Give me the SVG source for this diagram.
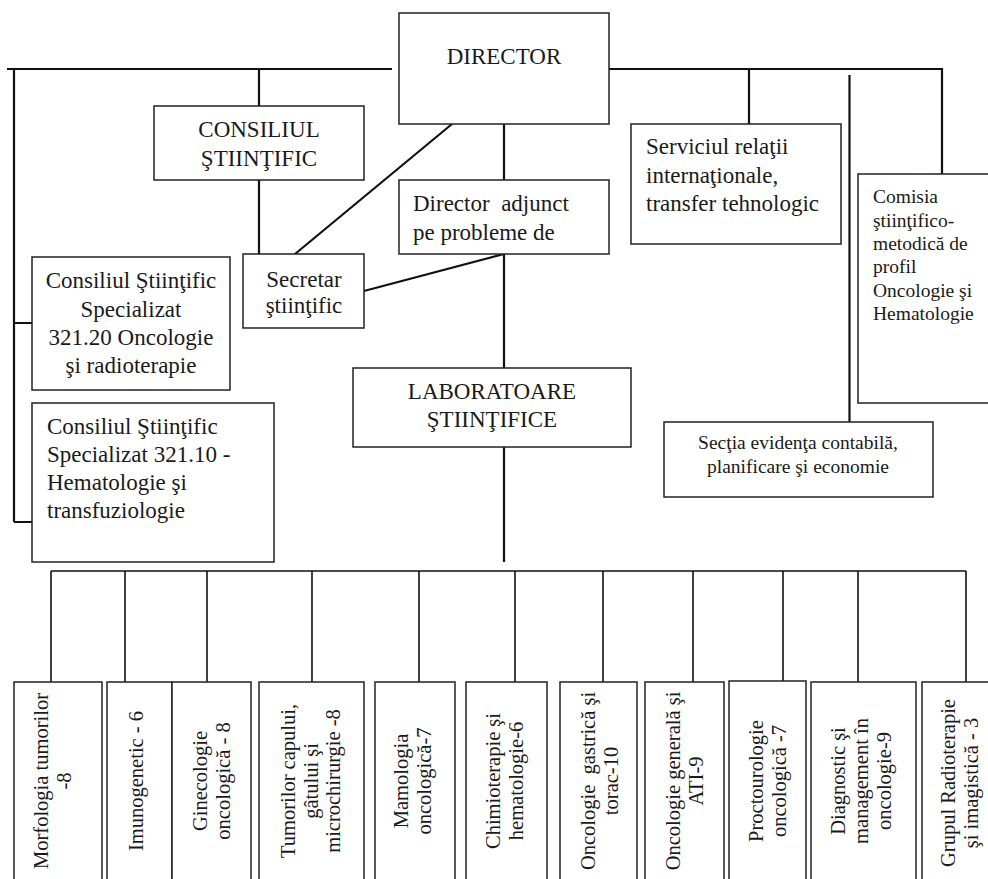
<svg xmlns="http://www.w3.org/2000/svg" width="988" height="879" viewBox="0 0 988 879">
<style>
.box{fill:#fff;stroke:#222;stroke-width:1.5}
.t{font-family:"Liberation Serif","Times New Roman",serif;fill:#1a1a1a;font-size:23px}
.s{font-size:19.5px}
.r{font-size:20.5px;text-anchor:middle}
.c{text-anchor:middle}
.ln{stroke:#111;stroke-width:2.2;fill:none}
.lt{stroke:#111;stroke-width:1.6;fill:none}
</style>
<rect width="988" height="879" fill="#fff"/>
<g id="connectors">
<path class="ln" d="M7 69H392M14 69V522M14 323H32M14 522H32M259 69V106M259 180V254M609 69H942V174M749 69V124M849.5 75V422M504 124V180M504 254V368M504 447V562"/>
<path class="ln" d="M452 124L295 254M364 291L504 254"/>
<path class="lt" d="M51 571H966M51 571V682M125 571V682M207 571V682M312 571V682M419 571V682M515 571V682M603 571V682M693 571V682M783 571V681M858 571V682M966 571V682"/>
</g>
<g id="director">
<rect class="box" x="399" y="13" width="210" height="111"/>
<text class="t c" x="504" y="64">DIRECTOR</text>
</g>
<g id="consiliul">
<rect class="box" x="154" y="106" width="210" height="74"/>
<text class="t c" x="259" y="137">CONSILIUL</text>
<text class="t c" x="259" y="166">ŞTIINŢIFIC</text>
</g>
<g id="director-adjunct">
<rect class="box" x="399" y="180" width="210" height="74"/>
<text class="t" x="413" y="211">Director&#160; adjunct</text>
<text class="t" x="413" y="240">pe probleme de</text>
</g>
<g id="secretar">
<rect class="box" x="243" y="254" width="121" height="74"/>
<text class="t c" x="304" y="287">Secretar</text>
<text class="t c" x="304" y="313">ştiinţific</text>
</g>
<g id="cs-32120">
<rect class="box" x="32" y="257" width="198" height="133"/>
<text class="t c" x="131" y="288">Consiliul Ştiinţific</text>
<text class="t c" x="131" y="317">Specializat</text>
<text class="t c" x="131" y="345">321.20 Oncologie</text>
<text class="t c" x="131" y="373">şi radioterapie</text>
</g>
<g id="cs-32110">
<rect class="box" x="32" y="403" width="242" height="159"/>
<text class="t" x="47" y="434">Consiliul Ştiinţific</text>
<text class="t" x="47" y="462">Specializat 321.10 -</text>
<text class="t" x="47" y="490">Hematologie şi</text>
<text class="t" x="47" y="518">transfuziologie</text>
</g>
<g id="laboratoare">
<rect class="box" x="353" y="368" width="278" height="79"/>
<text class="t c" x="492" y="399">LABORATOARE</text>
<text class="t c" x="492" y="427">ŞTIINŢIFICE</text>
</g>
<g id="serviciul">
<rect class="box" x="631" y="124" width="210" height="120"/>
<text class="t" x="646" y="154">Serviciul relaţii</text>
<text class="t" x="646" y="183">internaţionale,</text>
<text class="t" x="646" y="211">transfer tehnologic</text>
</g>
<g id="comisia">
<rect class="box" x="858" y="174" width="140" height="229"/>
<text class="t s" x="873" y="203">Comisia</text>
<text class="t s" x="873" y="226.5">ştiinţifico-</text>
<text class="t s" x="873" y="250">metodică de</text>
<text class="t s" x="873" y="273">profil</text>
<text class="t s" x="873" y="296.5">Oncologie şi</text>
<text class="t s" x="873" y="320">Hematologie</text>
</g>
<g id="sectia">
<rect class="box" x="664" y="422" width="269" height="75"/>
<text class="t s c" x="798" y="449">Secţia evidenţa contabilă,</text>
<text class="t s c" x="798" y="473">planificare şi economie</text>
</g>
<g id="lab-1">
<rect class="box" x="14" y="682" width="88" height="210"/>
<text class="t r" transform="translate(48,781) rotate(-90)">Morfologia tumorilor<tspan x="0" y="23">-8</tspan></text>
</g>
<g id="lab-2">
<rect class="box" x="107" y="682" width="65" height="210"/>
<text class="t r" transform="translate(143,781) rotate(-90)">Imunogenetic - 6</text>
</g>
<g id="lab-3">
<rect class="box" x="172" y="682" width="79" height="210"/>
<text class="t r" transform="translate(207,781) rotate(-90)">Ginecologie<tspan x="0" y="22.5">oncologică - 8</tspan></text>
</g>
<g id="lab-4">
<rect class="box" x="259" y="682" width="105" height="210"/>
<text class="t r" transform="translate(295,781) rotate(-90)">Tumorilor capului,<tspan x="0" y="22.5">gâtului şi</tspan><tspan x="0" y="45">microchirurgie -8</tspan></text>
</g>
<g id="lab-5">
<rect class="box" x="375" y="682" width="80" height="210"/>
<text class="t r" transform="translate(408,781) rotate(-90)">Mamologia<tspan x="0" y="22.5">oncologică-7</tspan></text>
</g>
<g id="lab-6">
<rect class="box" x="466" y="682" width="81" height="210"/>
<text class="t r" transform="translate(500,781) rotate(-90)">Chimioterapie şi<tspan x="0" y="23">hematologie-6</tspan></text>
</g>
<g id="lab-7">
<rect class="box" x="560" y="682" width="77" height="210"/>
<text class="t r" transform="translate(595,781) rotate(-90)">Oncologie&#160; gastrică şi<tspan x="0" y="22.5">torac-10</tspan></text>
</g>
<g id="lab-8">
<rect class="box" x="645" y="682" width="79" height="210"/>
<text class="t r" transform="translate(680,781) rotate(-90)">Oncologie generală şi<tspan x="0" y="22.5">ATI-9</tspan></text>
</g>
<g id="lab-9">
<rect class="box" x="729" y="681" width="77" height="210"/>
<text class="t r" transform="translate(763,781) rotate(-90)">Proctourologie<tspan x="0" y="22.5">oncologică -7</tspan></text>
</g>
<g id="lab-10">
<rect class="box" x="811" y="682" width="105" height="210"/>
<text class="t r" transform="translate(845,781) rotate(-90)">Diagnostic şi<tspan x="0" y="23">management în</tspan><tspan x="0" y="46">oncologie-9</tspan></text>
</g>
<g id="lab-11">
<rect class="box" x="922" y="682" width="80" height="210"/>
<text class="t r" transform="translate(955,783) rotate(-90)">Grupul Radioterapie<tspan x="0" y="22.5">şi imagistică - 3</tspan></text>
</g>
</svg>
